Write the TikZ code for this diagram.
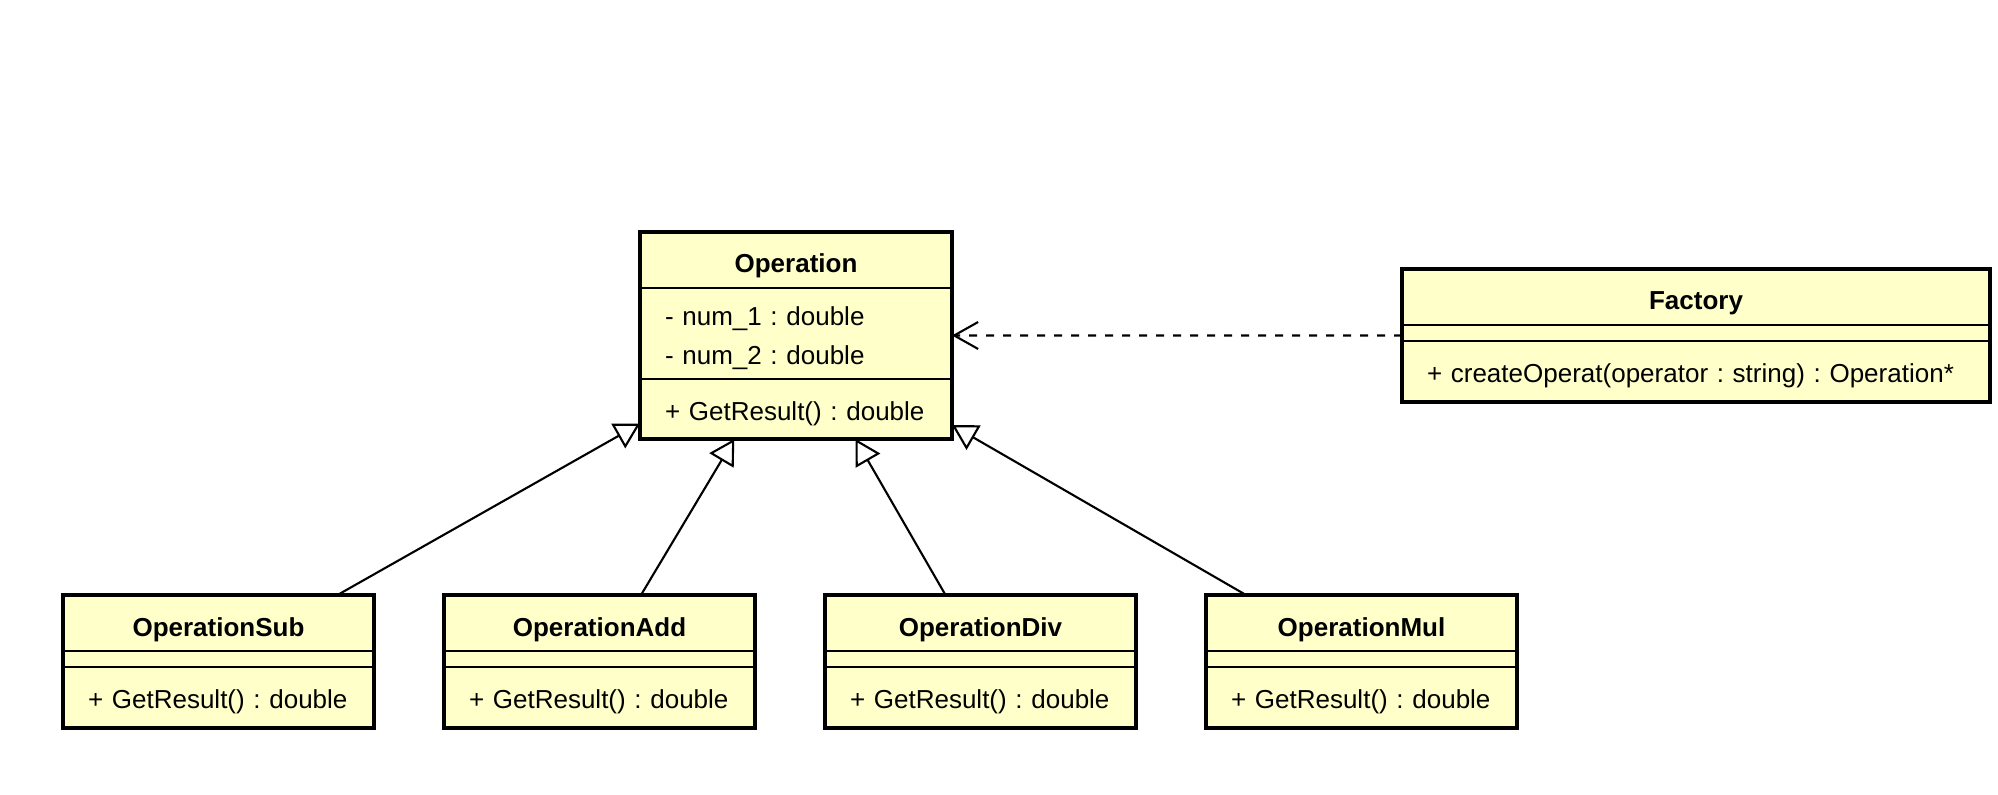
\documentclass[tikz,border=0pt]{standalone}
\usepackage{fontspec}
\setmainfont{Liberation Sans}
\usetikzlibrary{positioning, fit, arrows.meta}
\definecolor{classfill}{RGB}{255,255,202}
\frenchspacing

\begin{document}
\begin{tikzpicture}[
    node distance=0pt,
    classhead/.style={rectangle, draw, fill=classfill, line width=1.2pt, outer sep=0pt, inner sep=0pt, minimum height=1.12cm, text height=14.8pt, text depth=0pt, font=\fontsize{14.8}{22.4}\selectfont\bfseries},
    classbody/.style={rectangle, draw, fill=classfill, line width=1.2pt, outer sep=0pt, inner xsep=0.5cm, inner ysep=0pt, text width=#1, align=left, execute at begin node={\rule{0pt}{16pt}}, font=\fontsize{14.8}{22.4}\selectfont\frenchspacing},
    classgap/.style={rectangle, draw, fill=classfill, line width=1.2pt, outer sep=0pt, inner sep=0pt, minimum height=0.32cm, minimum width=#1},
    classframe/.style={rectangle, draw, line width=2pt, inner sep=0pt, outer sep=0pt},
    inherit/.style={line width=1.2pt, -{Triangle[open, length=0.5cm, width=0.56cm]}},
    depend/.style={line width=1.2pt, dash pattern=on 0.16cm off 0.18cm, -{Straight Barb[length=0.48cm, width=0.54cm]}}
]
\useasboundingbox (0,0) rectangle (39.96,15.88);

% === BASE CLASS ===
\node[classhead, minimum width=6.24cm, anchor=north] (op) at (15.92, 11.24) {Operation};
\node[classbody=5.24cm, minimum height=1.82cm, below=of op] (opattr) {- num\_1 : double\\- num\_2 : double};
\node[classbody=5.24cm, minimum height=1.2cm, below=of opattr] (opmeth) {+ GetResult() : double};
\node[classframe, fit=(op)(opmeth)] (opbox) {};

% === FACTORY ===
\node[classhead, minimum width=11.76cm, anchor=north] (fac) at (33.92, 10.5) {Factory};
\node[classgap=11.76cm, below=of fac] (facattr) {};
\node[classbody=10.76cm, minimum height=1.22cm, below=of facattr] (facmeth) {+ createOperat(operator : string) : Operation*};
\node[classframe, fit=(fac)(facmeth)] (facbox) {};

% === SUBCLASSES ===
\foreach \n/\t/\x in {sub/Sub/4.37, add/Add/11.99, div/Div/19.61, mul/Mul/27.23} {
    \node[classhead, minimum width=6.22cm, anchor=north] (\n) at (\x, 3.98) {Operation\t};
    \node[classgap=6.22cm, below=of \n] (\n attr) {};
    \node[classbody=5.22cm, minimum height=1.22cm, below=of \n attr] (\n meth) {+ GetResult() : double};
    \node[classframe, fit=(\n)(\n meth)] (\n box) {};
}

% Generalization
\foreach \n/\dx in {sub/2.38, add/0.83, div/-0.70, mul/-2.31} {
    \draw[inherit] ([xshift=\dx cm]\n box.north) -- (opbox);
}

% Dependency
\draw[depend] (facbox) -- (opbox);

\end{tikzpicture}
\end{document}
